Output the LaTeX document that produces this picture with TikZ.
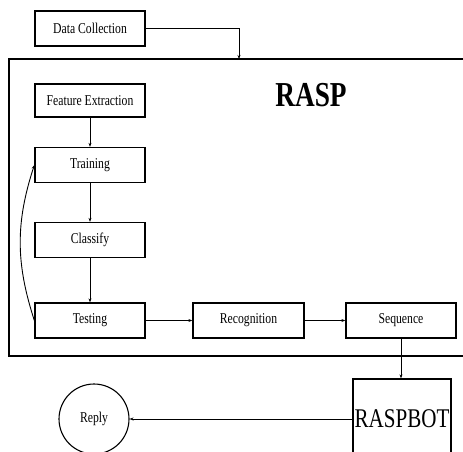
\documentclass[tikz,border=0pt]{standalone}
\usepackage{fontspec}
\setmainfont{Liberation Serif}
\newfontfamily\narrowserif[FakeStretch=0.78]{Liberation Serif}
\usetikzlibrary{positioning,calc,arrows.meta,shapes.geometric}

\begin{document}
\begin{tikzpicture}[x=1pt,y=-1pt,
		stepbox/.style={draw,line width=1.3pt,minimum width=110pt,minimum height=35pt,inner sep=0pt,font=\narrowserif\fontsize{15}{17}\selectfont},
		flow/.style={line width=0.9pt,-{Stealth[length=4pt,width=3pt]}}]
	\useasboundingbox (0,0) rectangle (463,451);
	\clip (0,0) rectangle (463,451);
	\def\L{9}
	\def\T{59}
	\def\B{356}
	
	% outer RASP frame
	\draw[line width=1.5pt] (470,\T) -- (\L,\T) -- (\L,\B) -- (470,\B);
	\node[font=\narrowserif\fontsize{35}{40}\selectfont\bfseries] (rasp) at (311,95) {RASP};
	
	\node[stepbox] (data) at (90,28.5) {Data Collection};
	\node[stepbox,minimum height=33pt] (feat) at (90,100.5) {Feature Extraction};
	\node[stepbox] (train) at (90,165) {Training};
	\node[stepbox] (class) at (90,240) {Classify};
	\node[stepbox] (test) at (90,320.5) {Testing};
	\node[stepbox,minimum width=111pt] (recog) at (248.5,320.5) {Recognition};
	\node[stepbox] (seq) at (401,320.5) {Sequence};
	\node[draw,line width=1.3pt,minimum width=98pt,minimum height=80pt,inner sep=0pt,font=\narrowserif\fontsize{27}{30}\selectfont] (bot) at (402,419) {RASPBOT};
	\node[draw,circle,line width=1.1pt,minimum size=70pt,inner sep=0pt,font=\narrowserif\fontsize{15}{17}\selectfont] (reply) at (94,419) {Reply};
	
	\coordinate (top) at (239,\T);
	\draw[flow] (data.east) -| (top);
	\draw[flow] (feat) -- (train);
	\draw[flow] (train) -- (class);
	\draw[flow] (class) -- (test);
	\draw[flow] (test) -- (recog);
	\draw[flow] (recog) -- (seq);
	\draw[flow] (test.west) to[out=108,in=252] (train.west);
	\draw[flow] (seq) -- (bot.north -| seq);
	\draw[flow] (bot) -- (reply);
\end{tikzpicture}
\end{document}
